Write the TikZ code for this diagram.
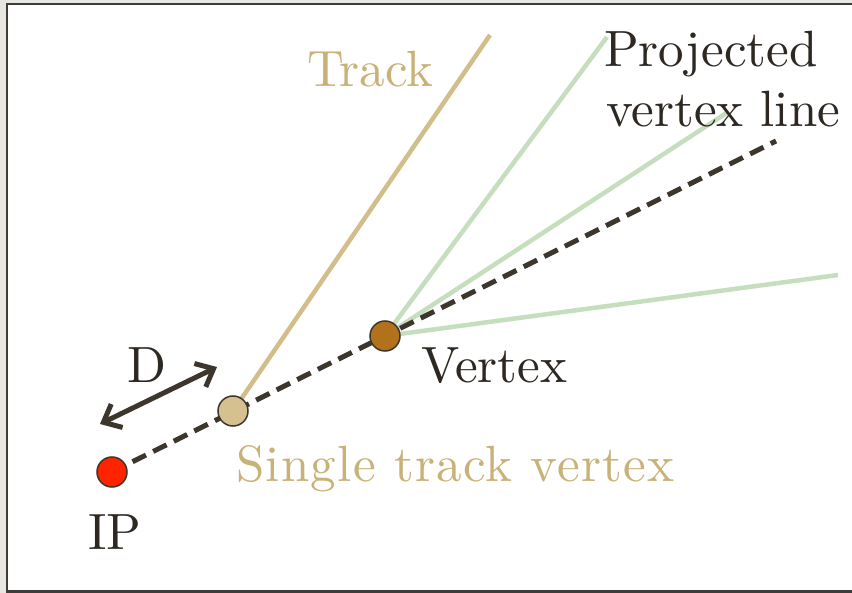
\documentclass[tikz,border=0pt]{standalone}
\usepackage{fontspec}
\setmainfont{lmroman10-regular.otf}
\usetikzlibrary{arrows.meta}
\definecolor{bgout}{RGB}{232,230,224}
\definecolor{framec}{RGB}{62,60,55}
\definecolor{darkc}{RGB}{60,54,45}
\definecolor{textc}{RGB}{45,40,34}
\definecolor{tanline}{RGB}{210,190,138}
\definecolor{tantext}{RGB}{200,178,120}
\definecolor{greenl}{RGB}{196,222,190}
\definecolor{ipred}{RGB}{255,36,0}
\definecolor{vtxbrown}{RGB}{178,114,28}
\definecolor{stvfill}{RGB}{213,193,143}
\begin{document}
\begin{tikzpicture}[x=1pt,y=-1pt,
  dot/.style={circle,draw=darkc,line width=1.5pt,minimum size=30pt,inner sep=0pt},
  lbl/.style={anchor=base west,inner sep=0pt,font=\fontsize{51}{60}\selectfont,text=textc},
  tanlbl/.style={lbl,text=tantext},
  trackline/.style={draw=tanline,line width=4.5pt},
  greenline/.style={draw=greenl,line width=4.5pt},
  projline/.style={draw=darkc,line width=5pt,dash pattern=on 15pt off 8pt},
  darrow/.style={draw=darkc,line width=5pt,{Straight Barb[length=15pt,width=26pt]}-{Straight Barb[length=15pt,width=26pt]}}
]
\useasboundingbox (0,0) rectangle (852,593);
\fill[bgout] (0,0) rectangle (852,593);
\draw[framec,line width=2.5pt,fill=white] (7,4) rectangle (870,591.5);

% coordinates
\coordinate (trackend) at (490,35);
\coordinate (g1) at (607,37);
\coordinate (g2) at (728,112);
\coordinate (g3) at (838,275);
\coordinate (projend) at (776,141);
\coordinate (da) at (100,424);
\coordinate (db) at (217,367);

% node positions
\coordinate (ippos) at (112,472);
\coordinate (stvpos) at (233,411);
\coordinate (vtxpos) at (385,336);

% lines
\path[trackline] (stvpos) -- (trackend);
\path[greenline] (vtxpos) -- (g1);
\path[greenline] (vtxpos) -- (g2);
\path[greenline] (vtxpos) -- (g3);
\path[projline] (ippos) -- (projend);
\path[darrow] (da) -- (db);

% dots
\node[dot,fill=ipred] (ip) at (ippos) {};
\node[dot,fill=stvfill] (stv) at (stvpos) {};
\node[dot,fill=vtxbrown] (vtx) at (vtxpos) {};

% labels
\node[tanlbl] (tracklbl) at (307,87) {Track};
\node[lbl] (proj1) at (604,67) {Projected};
\node[lbl] (proj2) at (606,127) {vertex line};
\node[lbl] (vtxlbl) at (421,383) {Vertex};
\node[tanlbl] (stvlbl) at (236,482) {\addfontfeatures{LetterSpace=2.5}Single track vertex};
\node[lbl] (dlbl) at (127,383) {D};
\node[lbl] (iplbl) at (88,550) {IP};
\end{tikzpicture}
\end{document}
